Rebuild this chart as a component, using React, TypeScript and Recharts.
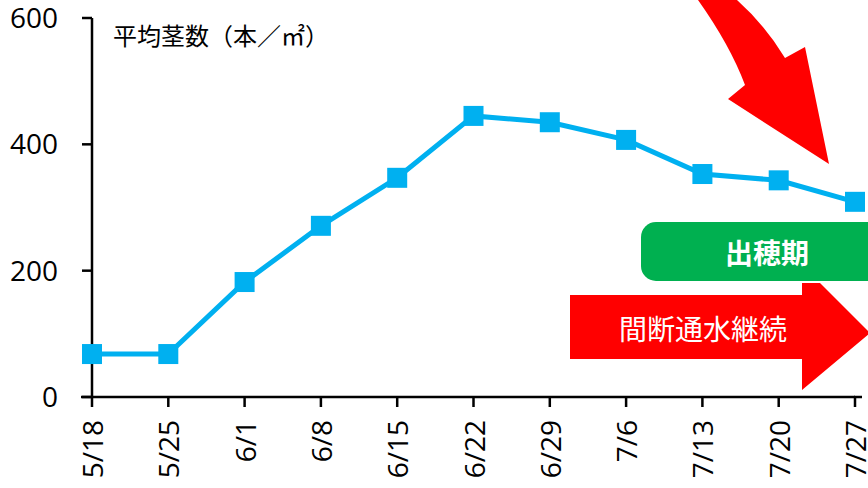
import { LineChart, Line, XAxis, YAxis } from 'recharts';

const dates = ['5/18', '5/25', '6/1', '6/8', '6/15', '6/22', '6/29', '7/6', '7/13', '7/20', '7/27'];
const stems = [68, 68, 182, 271, 347, 445, 435, 407, 353, 343, 309];
const yTicks = [0, 200, 400, 600];

const data = dates.map((d, i) => ({ date: d, value: stems[i] }));

const blue = '#00B0F0';
const red = '#FF0000';
const green = '#00B050';
const numFont = '"Open Sans", "Noto Sans", sans-serif';
const jpFont = '"Noto Sans CJK JP", sans-serif';

const SquareDot = (props: any) => {
  const { cx, cy } = props;
  if (cx == null || cy == null) return null;
  return <rect x={cx - 10} y={cy - 10} width={20} height={20} fill={blue} />;
};

// rotated date labels, they run off the bottom edge like the original
const XTick = ({ x, y, payload }: any) => (
  <g transform={`translate(${x},${y + 11})`}>
    <text
      transform="rotate(-90)"
      textAnchor="end"
      dy={11}
      fontSize={28}
      fontFamily={numFont}
      fill="#000"
    >
      {payload.value}
    </text>
  </g>
);

export default function App() {
  return (
    <div style={{ position: 'absolute', left: 0, top: 0, width: 868, height: 488, background: '#fff', overflow: 'hidden' }}>
      <LineChart
        width={868}
        height={488}
        data={data}
        margin={{ top: 18, right: 13, left: 0, bottom: 0 }}
      >
        <XAxis
          dataKey="date"
          height={91}
          interval={0}
          tick={<XTick />}
          tickSize={10}
          axisLine={{ stroke: '#000', strokeWidth: 2.5 }}
          tickLine={{ stroke: '#000', strokeWidth: 2.5 }}
        />
        <YAxis
          domain={[0, 600]}
          ticks={yTicks}
          width={92}
          tickSize={10}
          tickMargin={24}
          tick={{ fontSize: 28, fill: '#000', fontFamily: numFont }}
          axisLine={{ stroke: '#000', strokeWidth: 2.5 }}
          tickLine={{ stroke: '#000', strokeWidth: 2.5 }}
        />
        <Line
          dataKey="value"
          stroke={blue}
          strokeWidth={5}
          dot={<SquareDot />}
          activeDot={false}
          isAnimationActive={false}
        />
      </LineChart>
      <svg
        width={868}
        height={488}
        style={{ position: 'absolute', left: 0, top: 0, pointerEvents: 'none' }}
      >
        <line x1={81} y1={397} x2={93} y2={397} stroke="#000" strokeWidth={2.5} />
        <line x1={854} y1={397} x2={862} y2={397} stroke="#000" strokeWidth={2.5} />
        <text x={113} y={34} dominantBaseline="central" fontSize={24} fontFamily={jpFont} fill="#000">
          平均茎数（本／㎡）
        </text>
        <path
          d="M698,0 Q730,45 745,85 L728,99 L829,164 L805,47 L785,58 Q765,25 737,0 Z"
          fill={red}
        />
        <rect x={641} y={222} width={260} height={59} rx={15} fill={green} />
        <text
          x={767}
          y={252}
          textAnchor="middle"
          dominantBaseline="central"
          fontSize={28}
          fontWeight="bold"
          fontFamily={jpFont}
          fill="#fff"
        >
          出穂期
        </text>
        <path
          d="M570,295 L802,295 L802,283 L820,283 L870,333 L802,390 L802,359 L570,359 Z"
          fill={red}
        />
        <text
          x={703}
          y={328}
          textAnchor="middle"
          dominantBaseline="central"
          fontSize={28}
          fontFamily={jpFont}
          fill="#fff"
        >
          間断通水継続
        </text>
      </svg>
    </div>
  );
}
